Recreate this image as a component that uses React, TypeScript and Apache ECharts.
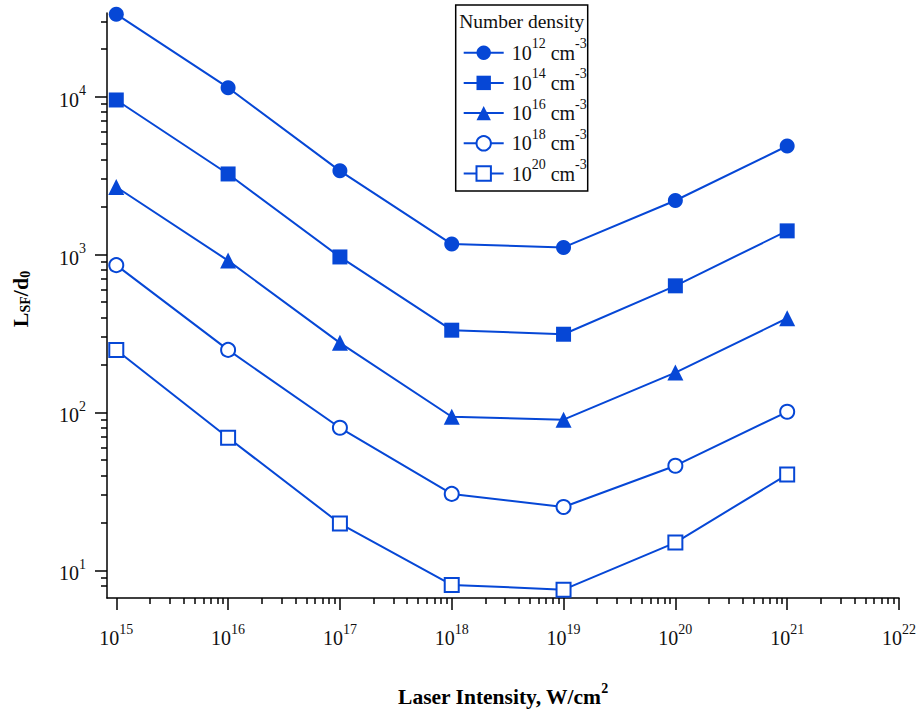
import React, { useEffect, useRef } from "react";
import * as echarts from "echarts";

// ---- data ----
const intensities = [1e15, 1e16, 1e17, 1e18, 1e19, 1e20, 1e21]; // W/cm^2
const densityExponents = [12, 14, 16, 18, 20]; // number density 10^n cm^-3
const n12 = [33300, 11400, 3390, 1165, 1110, 2200, 4870];
const n14 = [9530, 3240, 966, 332, 313, 634, 1413];
const n16 = [2680, 916, 276, 94, 90, 179, 395];
const n18 = [857, 249, 80, 30.5, 25.2, 46, 101];
const n20 = [249, 69.2, 19.8, 8.09, 7.55, 15, 40.4];
const xTickExponents = [15, 16, 17, 18, 19, 20, 21, 22];
const yTickExponents = [1, 2, 3, 4];

const seriesValues = [n12, n14, n16, n18, n20];
const symbols = ["circle", "rect", "triangle", "emptyCircle", "emptyRect"];
const symbolSizes = [15, 15, 16, 14, 14];

const BLUE = "#0647d6";
const FONT = "'Liberation Serif', 'Times New Roman', serif";

function minorTicks(lo: number, hi: number): number[] {
  const out: number[] = [];
  for (let n = Math.floor(lo) - 1; n <= Math.ceil(hi); n++) {
    for (let k = 2; k <= 9; k++) {
      const v = n + Math.log10(k);
      if (v >= lo + 0.05 && v <= hi - 0.01) out.push(v);
    }
  }
  return out;
}

export default function App() {
  const ref = useRef<HTMLDivElement>(null);
  useEffect(() => {
    if (!ref.current) return;
    const chart = echarts.init(ref.current, undefined, { renderer: "svg" });
    const xMin = 14.917, xMax = 22;
    const yMin = 0.825, yMax = 4.53;
    const labelRich = {
      b: { fontFamily: FONT, fontSize: 20, color: "#111", lineHeight: 32 },
      s: { fontFamily: FONT, fontSize: 14, color: "#111", verticalAlign: "top" },
    };
    const tickLine = { color: "#000", width: 1.5 };
    const names = densityExponents.map((e) => "1e" + e + " cm-3");
    const option: any = {
      animation: false,
      backgroundColor: "#fff",
      grid: { left: 107, right: 20, top: 13, bottom: 125 },
      xAxis: [
        {
          type: "value", min: xMin, max: xMax, position: "bottom",
          axisLine: { show: true, lineStyle: tickLine },
          axisTick: { show: true, length: 12, lineStyle: tickLine, customValues: xTickExponents },
          axisLabel: {
            customValues: xTickExponents, margin: 24,
            formatter: (v: number) => `{b|10}{s|${Math.round(v)}}`,
            rich: labelRich,
          },
          splitLine: { show: false },
        },
        {
          type: "value", min: xMin, max: xMax, position: "bottom",
          axisLine: { show: false },
          axisTick: { show: true, length: 6, lineStyle: tickLine, customValues: minorTicks(xTickExponents[0], xMax) },
          axisLabel: { show: false },
          splitLine: { show: false },
        },
      ],
      yAxis: [
        {
          type: "value", min: yMin, max: yMax, position: "left",
          axisLine: { show: true, lineStyle: tickLine },
          axisTick: { show: true, length: 12, lineStyle: tickLine, customValues: yTickExponents },
          axisLabel: {
            customValues: yTickExponents, margin: 21, padding: [6, 0, 0, 0],
            formatter: (v: number) => `{b|10}{s|${Math.round(v)}}`,
            rich: labelRich,
          },
          splitLine: { show: false },
        },
        {
          type: "value", min: yMin, max: yMax, position: "left",
          axisLine: { show: false },
          axisTick: { show: true, length: 6, lineStyle: tickLine, customValues: minorTicks(yMin, yMax) },
          axisLabel: { show: false },
          splitLine: { show: false },
        },
      ],
      legend: {
        orient: "vertical",
        left: 462.7,
        top: 36.7,
        padding: 0,
        itemWidth: 40,
        itemHeight: 18,
        itemGap: 4.2,
        selectedMode: false,
        data: names,
        formatter: (name: string) => {
          const e = name.slice(2, 4);
          return `{b|10}{s|${e}}{b| cm}{s|-3}`;
        },
        textStyle: {
          padding: [0, 0, 0, 3],
          rich: {
            b: { fontFamily: FONT, fontSize: 20, color: "#111", lineHeight: 32 },
            s: { fontFamily: FONT, fontSize: 14, color: "#111", verticalAlign: "top" },
          },
        },
      },
      graphic: [
        {
          type: "rect",
          shape: { x: 455.7, y: 5, width: 132, height: 186 },
          style: { fill: "none", stroke: "#000", lineWidth: 1.5 },
          z: 10,
        },
        {
          type: "text",
          x: 521.7, y: 21.6,
          style: { text: "Number density", font: `19.5px ${FONT}`, fill: "#111", align: "center", verticalAlign: "middle" },
          z: 10,
        },
        {
          type: "text",
          x: 503, y: 697,
          style: {
            text: "{b|Laser Intensity, W/cm}{s|2}",
            align: "center", verticalAlign: "middle",
            rich: {
              b: { font: `bold 21.5px ${FONT}`, fill: "#000", lineHeight: 32 },
              s: { font: `bold 14px ${FONT}`, fill: "#000", verticalAlign: "top" },
            },
          },
        },
        {
          type: "text",
          x: 20, y: 299,
          rotation: Math.PI / 2,
          style: {
            text: "{b|L}{u|SF}{b|/d}{u|0}",
            align: "center", verticalAlign: "middle",
            rich: {
              b: { font: `bold 22px ${FONT}`, fill: "#000", lineHeight: 24 },
              u: { font: `bold 14px ${FONT}`, fill: "#000", lineHeight: 6.4, verticalAlign: "bottom" },
            },
          },
        },
      ],
      series: seriesValues.map((vals, i) => ({
        name: names[i],
        type: "line",
        xAxisIndex: 0,
        yAxisIndex: 0,
        data: intensities.map((x, j) => [Math.log10(x), Math.log10(vals[j])]),
        symbol: symbols[i],
        symbolSize: symbolSizes[i],
        showAllSymbol: true,
        lineStyle: { color: BLUE, width: 2 },
        itemStyle: { color: BLUE },
        z: 5,
      })),
    };
    chart.setOption(option);
    return () => chart.dispose();
  }, []);
  return (
    <div
      ref={ref}
      style={{ position: "fixed", left: 0, top: 0, width: 919, height: 723, background: "#fff" }}
    />
  );
}
